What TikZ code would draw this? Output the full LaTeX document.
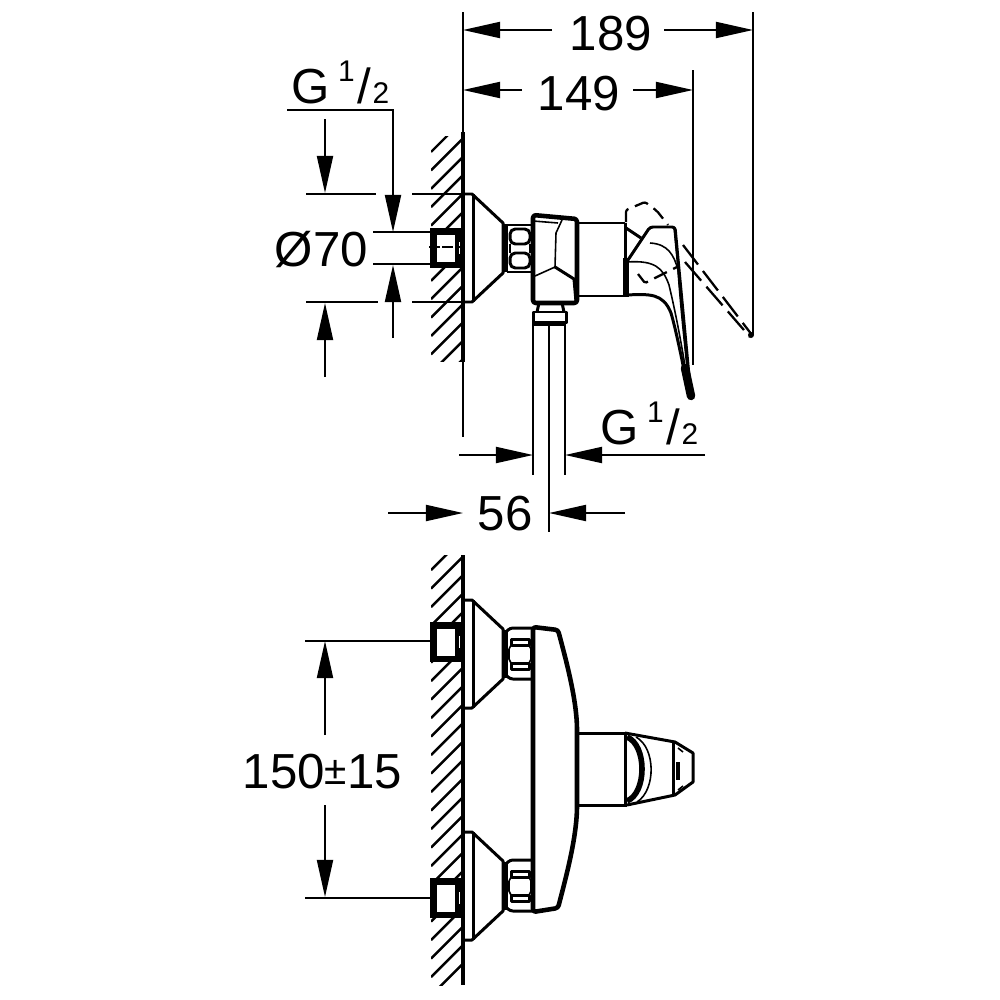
\documentclass[tikz,border=0pt]{standalone}
\usepackage{fontspec}
\setmainfont{Liberation Sans}
\usetikzlibrary{arrows.meta,positioning}
\newcommand{\dimfont}{\fontsize{14}{14}\selectfont}
\newcommand{\halffont}{\fontsize{8.5}{8.5}\selectfont}
\newcommand{\threadhalf}{G\,\raisebox{2.1mm}{\halffont 1}\kern.3mm/\kern.1mm{\halffont 2}}
\newcommand{\plusminus}{\raisebox{.35mm}{\fontsize{11.5}{11.5}\selectfont ±}}
\tikzset{
	dimline/.style={line width=.55pt,-{Triangle[length=3.7mm,width=1.6mm]}},
	extline/.style={line width=.55pt},
	thinpart/.style={line width=.45pt},
	partline/.style={line width=.85pt,line join=round},
	heavypart/.style={line width=1.3pt,line join=round},
	ghostline/.style={line width=.65pt,dash pattern=on 4pt off 2pt},
	ghostlong/.style={line width=.65pt,dash pattern=on 7pt off 2.3pt},
	hatch/.style={line width=.7pt},
	dimtext/.style={font=\dimfont,inner sep=0pt,anchor=base west}
}
\begin{document}
\begin{tikzpicture}[x=.01cm,y=-.01cm]
	\useasboundingbox (0,0) rectangle (1000,1000);
	\coordinate (W0) at (463,12);
	\coordinate (W1) at (463,437);
	\coordinate (W2) at (463,555);
	\coordinate (W3) at (463,985);
	\coordinate (T0) at (753,12);
	\coordinate (T1) at (753,335);
	\coordinate (S0) at (693,70);
	\coordinate (S1) at (693,365);
	\begin{scope}
		\clip (431,136) rectangle (463,361);
		\foreach \y in {152,170.4,188.8,207.2,225.6,244,262.4,280.8,299.2,317.6,336,354.4,372.8,391.2}
			\draw[hatch] (431,\y) -- (463,\y-32);
	\end{scope}
	\begin{scope}
		\clip (431,555) rectangle (463,985);
		\foreach \y in {0,...,23}
			\draw[hatch] (431,570+18.5*\y) -- (463,538+18.5*\y);
	\end{scope}
	\foreach \t in {194,600,832} {
		\draw[partline,fill=white] (463,\t) -- (472,\t) -- (503,\t+29) -- (503,\t+79) -- (472,\t+108) -- (463,\t+108);
		\draw[partline] (473,\t) -- (473,\t+108);
		\draw[heavypart,line width=1.6pt] (505,\t+30) -- (505,\t+78);
	}
	\draw[extline] (W0) -- (W1);
	\draw[extline] (T0) -- (T1);
	\draw[extline] (S0) -- (S1);
	\draw[heavypart] (463,132) -- (463,362);
	\draw[heavypart] (W2) -- (W3);
	\foreach \t in {228,622,878} {
		\fill[black] (430,\t) rectangle (462,\t+40);
		\fill[white] (437,\t+7) rectangle (455,\t+34);
		\fill[white] (458.5,\t+14) rectangle (460,\t+26);
	}
	\draw[thinpart,dash pattern=on 3pt off .8pt] (429,247) -- (461,247);
	% upper nut
	\draw[partline] (507,225) -- (533,225);
	\draw[partline] (507,272) -- (533,272);
	\draw[partline,rounded corners=1.5pt] (510,229) rectangle (530,244);
	\draw[partline,rounded corners=1.5pt] (510,253) rectangle (530,268);
	\draw[thinpart] (510,244) -- (510,253) (530,244) -- (530,253);
	% lower nuts
	\foreach \t in {628,860} {
		\draw[partline,rounded corners=.8pt] (507,\t+3) -- (510,\t) -- (533,\t);
		\draw[partline,rounded corners=.8pt] (507,\t+48) -- (510,\t+51) -- (533,\t+51);
		\draw[partline] (511,\t+11) rectangle (529,\t+17);
		\draw[partline] (511,\t+35) rectangle (529,\t+41);
		\draw[thinpart] (509,\t+21) -- (511,\t+17) (529,\t+17) -- (531,\t+21) -- (531,\t+31) -- (529,\t+35) (511,\t+35) -- (509,\t+31) -- (509,\t+21);
	}
	% upper body
	\draw[heavypart,rounded corners=.8pt] (533,215) -- (577,219) -- (577,303) -- (533,303) -- cycle;
	\draw[thinpart] (533,221) -- (558,223);
	\draw[thinpart] (562,220) -- (556,233) -- (555,267) -- (535,276);
	\draw[partline] (555,267) -- (574,279) -- (576,302);
	\draw[partline] (537,312) -- (539,303) (562,303) -- (564,312);
	\draw[partline] (533,312) rectangle (566,323);
	\draw[heavypart] (533,323.5) -- (566,323.5);
	% hose
	\draw[extline] (533,323) -- (533,475);
	\draw[extline] (565,323) -- (565,475);
	\draw[extline] (549,323) -- (549,532);
	% cylinder and lever
	\draw[partline] (577,223) -- (625,223);
	\draw[partline] (577,296) -- (625,296);
	\draw[partline] (625,223) -- (625,260);
	\draw[heavypart,line width=1.9pt] (626,258) -- (626,297);
	\draw[partline] (626,228) -- (641,238);
	\draw[partline,rounded corners=.8pt] (626,263) -- (650,227) -- (675,227) -- (691,397);
	\draw[partline] (626,295) .. controls (650,294) and (663,293) .. (671,313) .. controls (676,330) and (682,360) .. (689,394);
	\draw[thinpart] (627,262) .. controls (655,260) and (663,268) .. (669,285) .. controls (675,310) and (682,345) .. (688,385);
	\draw[thinpart] (650,243) .. controls (668,244) and (674,255) .. (678,270) .. controls (680,300) and (684,340) .. (689,385);
	\draw[thinpart] (674,227) -- (689,385);
	\draw[partline,line cap=round,line width=2.4pt] (685,368) -- (691,396);
	% dashed lever position
	\draw[ghostline,rounded corners=.6pt] (626,222) -- (626,210) -- (645,202) -- (657,211) -- (668,225);
	\draw[ghostline,rounded corners=.4pt] (638,274) -- (645,283) -- (677,267);
	\draw[ghostlong] (683,245) -- (752,335);
	\draw[ghostlong] (685,262) -- (750,337);
	\fill[black] (751,335) circle (3);
	% lower body
	\draw[heavypart,rounded corners=.8pt] (533,627) -- (558,630) .. controls (566,660) and (577,700) .. (577,733) -- (577,803) .. controls (577,837) and (566,877) .. (558,908) -- (533,912) -- cycle;
	\draw[partline] (577,733) -- (625,733);
	\draw[partline] (577,805) -- (627,805);
	\draw[partline] (625,733) -- (675,742) -- (693,753) -- (693,782) -- (675,795) -- (627,805);
	\draw[partline] (625,733) -- (625,805);
	\draw[heavypart,line width=1.6pt] (627,737) .. controls (647,745) and (647,793) .. (627,801);
	\draw[thinpart] (636,737) .. controls (656,748) and (656,790) .. (637,802);
	\draw[partline] (673,742) -- (673,795);
	\draw[heavypart] (678,762) -- (678,780);
	\draw[thinpart] (678,748) -- (683,752) (678,790) -- (683,786);
	% dimensions on top
	\node[dimtext] (L189) at (569,50) {189};
	\node[dimtext] (L149) at (537,110) {149};
	\coordinate (A189a) at (552,30);
	\coordinate (A189b) at (463,30);
	\coordinate (A189c) at (664,30);
	\coordinate (A189d) at (753,30);
	\coordinate (A149a) at (522,90);
	\coordinate (A149b) at (463,90);
	\coordinate (A149c) at (633,90);
	\coordinate (A149d) at (693,90);
	\draw[dimline] (A189a) -- (A189b);
	\draw[dimline] (A189c) -- (A189d);
	\draw[dimline] (A149a) -- (A149b);
	\draw[dimline] (A149c) -- (A149d);
	% left thread and diameter
	\node[dimtext] (GL) at (291,103) {\threadhalf};
	\node[dimtext] (D70) at (274,266) {Ø70};
	\coordinate (G0) at (287,110);
	\coordinate (G1) at (393,110);
	\coordinate (G2) at (393,232);
	\coordinate (G3) at (393,338);
	\coordinate (G4) at (393,265);
	\draw[dimline] (G0) -- (G1) -- (G2);
	\draw[dimline] (G3) -- (G4);
	\coordinate (E0) at (325,119);
	\coordinate (E1) at (325,193);
	\coordinate (E2) at (325,377);
	\coordinate (E3) at (325,303);
	\draw[dimline] (E0) -- (E1);
	\draw[dimline] (E2) -- (E3);
	\draw[extline] (306,194) -- (376,194) (412,194) -- (463,194);
	\draw[extline] (306,302) -- (378,302) (412,302) -- (463,302);
	\draw[extline] (373,232) -- (431,232) (373,264) -- (431,264);
	% hose dimensions
	\node[dimtext] (GR) at (600,444) {\threadhalf};
	\node[dimtext] (L56) at (477,530) {56};
	\coordinate (H0) at (459,455);
	\coordinate (H1) at (533,455);
	\coordinate (H2) at (705,455);
	\coordinate (H3) at (565,455);
	\coordinate (H4) at (388,513);
	\coordinate (H5) at (463,513);
	\coordinate (H6) at (625,513);
	\coordinate (H7) at (549,513);
	\draw[dimline] (H0) -- (H1);
	\draw[dimline] (H2) -- (H3);
	\draw[dimline] (H4) -- (H5);
	\draw[dimline] (H6) -- (H7);
	% lower view dimension
	\node[dimtext] (L150) at (242,788) {150\plusminus 15};
	\coordinate (V0) at (325,735);
	\coordinate (V1) at (325,641);
	\coordinate (V2) at (325,805);
	\coordinate (V3) at (325,897);
	\draw[dimline] (V0) -- (V1);
	\draw[dimline] (V2) -- (V3);
	\draw[extline] (305,641) -- (431,641);
	\draw[extline] (305,898) -- (431,898);
\end{tikzpicture}
\end{document}
